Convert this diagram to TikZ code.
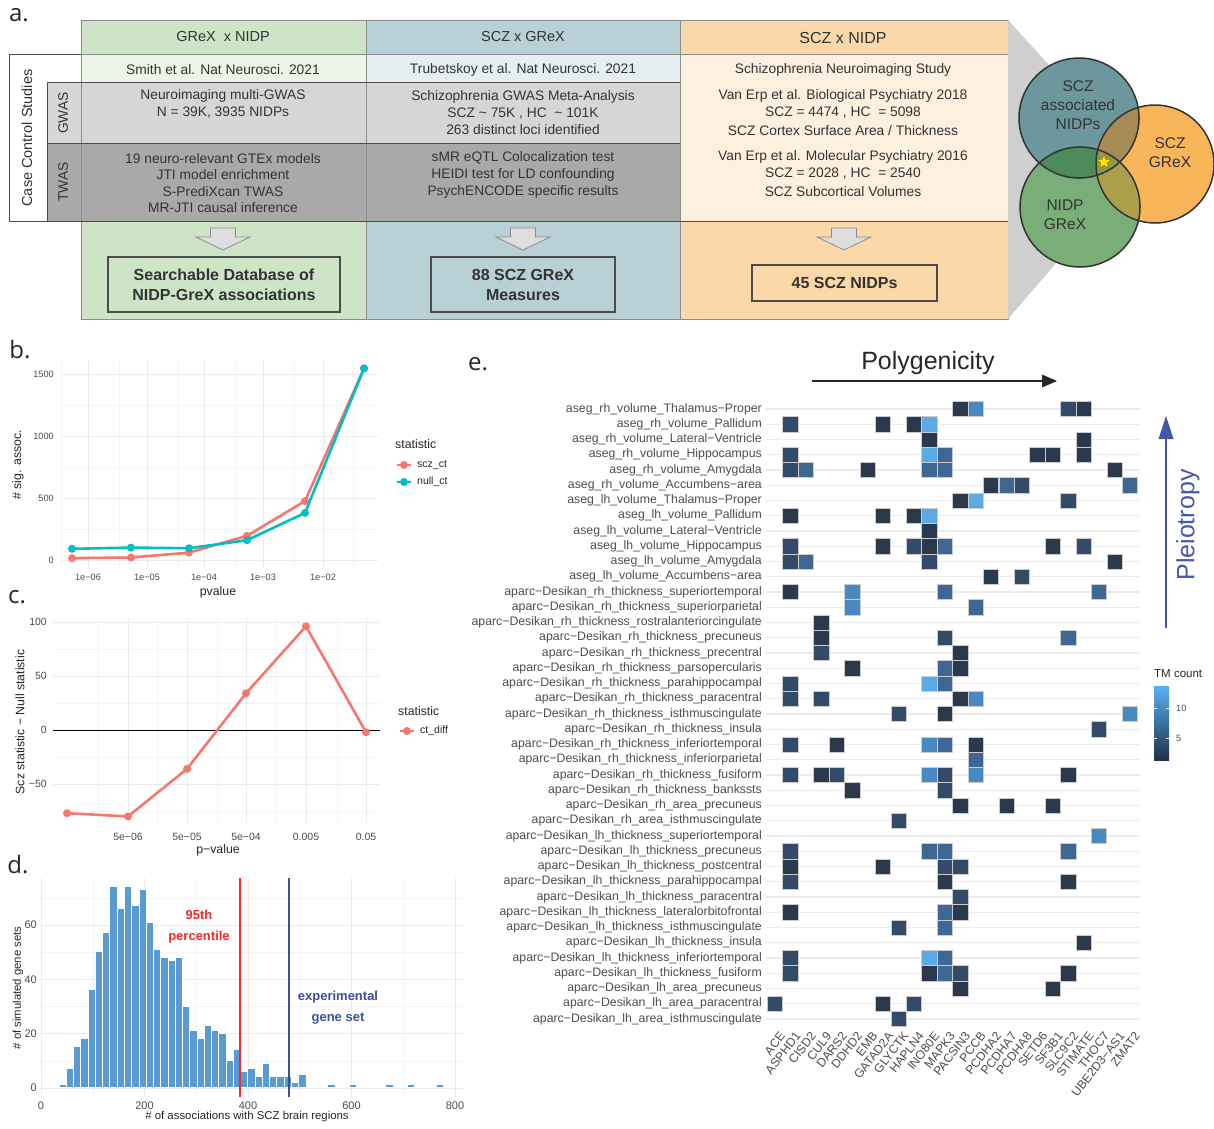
\documentclass[tikz,border=0pt]{standalone}
\usepackage{fontspec}
\setmainfont{Liberation Sans}
\newfontfamily\letterfont{Open Sans}
\usepackage{tikz}
\usepackage{xcolor}
\usetikzlibrary{shapes.geometric}

\definecolor{colgreen}{HTML}{CDE4C6}
\definecolor{colgreenpale}{HTML}{EDF5E8}
\definecolor{colblue}{HTML}{B8D0D6}
\definecolor{colbluepale}{HTML}{E5EEF0}
\definecolor{colorange}{HTML}{FBD8A8}
\definecolor{colcream}{HTML}{FDF0DF}
\definecolor{gwasgray}{HTML}{D6D6D6}
\definecolor{twasgray}{HTML}{A9A9A9}
\definecolor{framegray}{HTML}{8C8C8C}
\definecolor{txtdark}{HTML}{333333}
\definecolor{vennteal}{HTML}{6C979D}
\definecolor{vennorange}{HTML}{F8B55A}
\definecolor{venngreen}{HTML}{7AAE78}
\definecolor{tealgreen}{HTML}{4D8B5B}
\definecolor{tealorange}{HTML}{A68B55}
\definecolor{greenorange}{HTML}{ABA049}
\definecolor{allthree}{HTML}{8E9A4B}
\definecolor{conegray}{HTML}{CFCFCF}
\definecolor{gridmaj}{HTML}{EBEBEB}
\definecolor{gridmin}{HTML}{F4F4F4}
\definecolor{ticktxt}{HTML}{4D4D4D}
\definecolor{sczred}{HTML}{F8766D}
\definecolor{nullcyan}{HTML}{00BFC4}
\definecolor{barblue}{HTML}{5A9AD3}
\definecolor{pctred}{HTML}{EE2A2A}
\definecolor{expblue}{HTML}{3B4EA2}
\definecolor{tm1}{HTML}{2B394D}
\definecolor{tm2}{HTML}{334B69}
\definecolor{tm3}{HTML}{3E6791}
\definecolor{tm4}{HTML}{4A88C2}
\definecolor{tm5}{HTML}{5CAAE3}
\definecolor{tmlow}{HTML}{1F3148}
\definecolor{tmhigh}{HTML}{56B1F7}
\definecolor{pleioblue}{HTML}{4558A8}

\begin{document}
\begin{tikzpicture}[x=1pt,y=-1pt]
\tikzstyle{every node}+=[inner sep=0pt]
\tikzstyle{atext}=[text=txtdark, align=center, font=\fontsize{13.8}{16.6}\selectfont]
\tikzstyle{ahead}=[text=txtdark, font=\fontsize{14.5}{17}\selectfont]
\tikzstyle{abold}=[text=txtdark, align=center, font=\fontsize{16}{20}\selectfont\bfseries]
\tikzstyle{resbox}=[draw=black!70, line width=1.2pt]
\tikzstyle{blockarrow}=[fill=black!13, draw=black!45, line width=0.8pt]
\tikzstyle{venntext}=[text=txtdark, align=center, font=\fontsize{15.5}{19}\selectfont]
\tikzstyle{panellab}=[text=black!85, font=\letterfont\fontsize{24}{24}\selectfont]
\tikzstyle{majgrid}=[draw=gridmaj, line width=1pt]
\tikzstyle{mingrid}=[draw=gridmin, line width=0.6pt]
\tikzstyle{tickb}=[text=ticktxt, font=\fontsize{9.2}{10}\selectfont]
\tikzstyle{tickc}=[text=ticktxt, font=\fontsize{10.5}{11}\selectfont]
\tikzstyle{tickd}=[text=ticktxt, font=\fontsize{11}{12}\selectfont]
\tikzstyle{axtitle}=[text=black!85, font=\fontsize{12.3}{13}\selectfont]
\tikzstyle{legtext}=[text=black!85, font=\fontsize{10.5}{12}\selectfont]
\tikzstyle{rowlab}=[text=ticktxt, anchor=east, font=\fontsize{12.3}{13}\selectfont]
\tikzstyle{genelab}=[text=ticktxt, anchor=north east, rotate=52, font=\fontsize{12.2}{12}\selectfont]
\tikzstyle{tmcell}=[draw=white!80!black, line width=0.5pt]
\useasboundingbox (0,0) rectangle (1214,1128);

\node[panellab] (la) at (19,15) {a.};
\fill[colgreen] (81,20) rectangle (366,319);
\fill[colblue] (366,20) rectangle (680,319);
\fill[colorange] (680,20) rectangle (1008,319);
\fill[colgreenpale] (81,54) rectangle (366,82);
\fill[colbluepale] (366,54) rectangle (680,82);
\fill[colcream] (680,54) rectangle (1008,221);
\fill[gwasgray] (47,82) rectangle (680,143);
\fill[twasgray] (47,143) rectangle (680,221);
\fill[white] (9,54) rectangle (81,82);
\fill[white] (9,82) rectangle (47,221);
\draw[framegray, line width=1pt] (81,20) rectangle (1008,319);
\draw[framegray, line width=1pt] (366,20) -- (366,319);
\draw[framegray, line width=1pt] (680,20) -- (680,319);
\draw[framegray, line width=1pt] (81,54) -- (1008,54);
\draw[black!70, line width=1pt] (9,54) -- (81,54);
\draw[black!70, line width=1pt] (9,54) -- (9,221) -- (1008,221);
\draw[black!70, line width=1pt] (47,82) -- (680,82);
\draw[black!70, line width=1pt] (47,143) -- (680,143);
\draw[black!70, line width=1pt] (47,82) -- (47,221);
\node[ahead] (hgreen) at (223,37) {GReX\ \ x NIDP};
\node[ahead] (hblue) at (523,37) {SCZ x GReX};
\node[ahead, font=\fontsize{16}{18}\selectfont] (horange) at (843,38) {SCZ x NIDP};
\node[atext] (rgreen) at (223,70) {Smith et al. Nat Neurosci. 2021};
\node[atext] (rblue) at (523,70) {Trubetskoy et al. Nat Neurosci. 2021};
\node[atext] (rorange) at (843,70) {Schizophrenia Neuroimaging Study};
\node[atext] (gwgreen) at (223,104) {Neuroimaging multi-GWAS\\N = 39K, 3935 NIDPs};
\node[atext] (gwblue) at (523,112.5) {Schizophrenia GWAS Meta-Analysis\\SCZ \textasciitilde{} 75K , HC \ \textasciitilde{} 101K\\263 distinct loci identified};
\node[atext] (twgreen) at (223,183) {19 neuro-relevant GTEx models\\JTI model enrichment\\S-PrediXcan TWAS\\MR-JTI causal inference};
\node[atext] (twblue) at (523,175) {sMR eQTL Colocalization test\\HEIDI test for LD confounding\\PsychENCODE specific results};
\node[atext] (bio) at (843,104) {Van Erp et al. Biological Psychiatry 2018\\SCZ = 4474 , HC \ = 5098};
\node[atext] (cortex) at (843,131) {SCZ Cortex Surface Area / Thickness};
\node[atext] (mol) at (843,165) {Van Erp et al. Molecular Psychiatry 2016\\SCZ = 2028 , HC \ = 2540};
\node[atext] (subc) at (843,192) {SCZ Subcortical Volumes};
\node[atext, rotate=90, font=\fontsize{14.5}{16}\selectfont] (ccs) at (27,138) {Case Control Studies};
\node[atext, rotate=90] (gwas) at (63,113) {GWAS};
\node[atext, rotate=90] (twas) at (63,182) {TWAS};
\foreach \ax in {223,523,844}
  \filldraw[blockarrow] ({\ax-12.5},228) -- ({\ax+12.5},228) -- ({\ax+12.5},237) -- ({\ax+27},237)
    -- (\ax,250) -- ({\ax-27},237) -- ({\ax-12.5},237) -- cycle;
\node[resbox, abold, fill=colgreen, minimum width=232pt, minimum height=55pt] (resgreen) at (224,284.5) {Searchable Database of\\NIDP-GreX associations};
\node[resbox, abold, fill=colblue, minimum width=184pt, minimum height=55pt] (resblue) at (523,284.5) {88 SCZ GReX\\Measures};
\node[resbox, abold, fill=colorange, minimum width=185pt, minimum height=36pt] (resorange) at (844.5,283) {45 SCZ NIDPs};

\fill[conegray] (1008,20) -- (1050,66) -- (1057,262) -- (1008,319) -- cycle;
\fill[vennteal] (1079,118) circle [radius=60pt];
\fill[vennorange] (1155,164) circle [radius=59pt];
\fill[venngreen] (1080,207) circle [radius=60pt];
\begin{scope}
\clip (1079,118) circle [radius=60pt];
\fill[tealgreen] (1080,207) circle [radius=60pt];
\fill[tealorange] (1155,164) circle [radius=59pt];
\end{scope}
\begin{scope}
\clip (1080,207) circle [radius=60pt];
\fill[greenorange] (1155,164) circle [radius=59pt];
\clip (1079,118) circle [radius=60pt];
\fill[allthree] (1155,164) circle [radius=59pt];
\end{scope}
\draw[black!80, line width=1.5pt] (1079,118) circle [radius=60pt];
\draw[black!80, line width=1.5pt] (1155,164) circle [radius=59pt];
\draw[black!80, line width=1.5pt] (1080,207) circle [radius=60pt];
\node[star, star points=5, star point ratio=2.3, minimum size=15pt, fill=yellow!90!orange, draw=orange!70!black, line width=0.4pt] (star) at (1104,162) {};
\node[venntext] (vscz) at (1078,105) {SCZ\\associated\\NIDPs};
\node[venntext] (vgrex) at (1170,152.5) {SCZ\\GReX};
\node[venntext] (vnidp) at (1065,215) {NIDP\\GReX};

\node[panellab] (lb) at (20,350) {b.};
\foreach \gy in {405,467,529} \draw[mingrid] (62,\gy) -- (378,\gy);
\foreach \gx in {61,119,178,236,294,353} \draw[mingrid] (\gx,360) -- (\gx,568);
\foreach \gy in {374,436,498,560} \draw[majgrid] (62,\gy) -- (378,\gy);
\foreach \gx in {88,147,204,263,323} \draw[majgrid] (\gx,360) -- (\gx,568);
\draw[sczred, line width=2.6pt, line join=round] (72,558.1) -- (131,557.5) -- (189,552.6) -- (247,535.8) -- (305,501.1) -- (364,368.4);
\foreach \px/\py in {72/558.1,131/557.5,189/552.6,247/535.8,305/501.1,364/368.4}
  \fill[sczred] (\px,\py) circle [radius=4pt];
\draw[nullcyan, line width=2.6pt, line join=round] (72,548.8) -- (131,547.6) -- (189,548.2) -- (247,540.2) -- (305,512.9) -- (364,368.4);
\foreach \px/\py in {72/548.8,131/547.6,189/548.2,247/540.2,305/512.9,364/368.4}
  \fill[nullcyan] (\px,\py) circle [radius=4pt];
\foreach \tv/\ty in {1500/374,1000/436,500/498,0/560}
  \node[tickb, anchor=east] (yb\tv) at (54,\ty) {\tv};
\foreach \tx/\tl [count=\i] in {88/1e−06,147/1e−05,204/1e−04,263/1e−03,323/1e−02}
  \node[tickb] (xb\i) at (\tx,577) {\tl};
\node[axtitle] (xtb) at (218,592) {pvalue};
\node[axtitle, rotate=90] (ytb) at (18,465) {\# sig. assoc.};
\node[axtitle, anchor=west] (legb) at (395,444) {statistic};
\draw[sczred, line width=2.6pt] (397,465) -- (411,465);
\fill[sczred] (404,465) circle [radius=4pt];
\node[legtext, anchor=west] (legscz) at (417,465) {scz\_ct};
\draw[nullcyan, line width=2.6pt] (397,482) -- (411,482);
\fill[nullcyan] (404,482) circle [radius=4pt];
\node[legtext, anchor=west] (legnull) at (417,482) {null\_ct};

\node[panellab] (lc) at (17,597) {c.};
\foreach \gy in {649,703,757,811} \draw[mingrid] (53,\gy) -- (380,\gy);
\foreach \gx in {98,157,217,276,337} \draw[mingrid] (\gx,618) -- (\gx,823);
\foreach \gy in {622,676,784} \draw[majgrid] (53,\gy) -- (380,\gy);
\foreach \gx in {128,187,246,306,366} \draw[majgrid] (\gx,618) -- (\gx,823);
\draw[black, line width=0.8pt] (53,730) -- (380,730);
\draw[sczred, line width=2.6pt, line join=round] (67,813.2) -- (128,816.4) -- (187,768.9) -- (246,693.3) -- (306,626.3) -- (366,732.2);
\foreach \px/\py in {67/813.2,128/816.4,187/768.9,246/693.3,306/626.3,366/732.2}
  \fill[sczred] (\px,\py) circle [radius=4pt];
\foreach \tv/\ty [count=\i] in {100/622,50/676,0/730,−50/784}
  \node[tickc, anchor=east] (yc\i) at (47,\ty) {\tv};
\foreach \tx/\tl [count=\i] in {128/5e−06,187/5e−05,246/5e−04,306/0.005,366/0.05}
  \node[tickc] (xc\i) at (\tx,837) {\tl};
\node[axtitle] (xtc) at (218,850) {p−value};
\node[axtitle, rotate=90] (ytc) at (20,722) {Scz statistic − Null statistic};
\node[axtitle, anchor=west] (legc) at (398,711) {statistic};
\draw[sczred, line width=2.6pt] (400,731) -- (414,731);
\fill[sczred] (407,731) circle [radius=4pt];
\node[legtext, anchor=west] (legdiff) at (420,731) {ct\_diff};

\node[panellab] (ld) at (18,865) {d.};
\foreach \gy in {1060.9,1006.6,952.3,898} \draw[mingrid] (40,\gy) -- (463,\gy);
\foreach \gx in {92.8,196.3,299.8,403.3} \draw[mingrid] (\gx,878) -- (\gx,1097);
\foreach \gy in {1088,1033.7,979.4,925.1} \draw[majgrid] (40,\gy) -- (463,\gy);
\foreach \gx in {41,144.5,248,351.5,455} \draw[majgrid] (\gx,878) -- (\gx,1097);
\foreach \k/\n in {0/1,1/7,2/15,3/18,4/36,5/50,6/57,7/74,8/66,9/74,10/67,11/73,12/61,13/51,14/48,15/47,16/48,17/30,18/21,19/18,20/23,21/21,22/20,23/10,24/14,25/6,26/7,27/4,28/9,29/4,30/4,31/4,32/2,33/5,37/1,40/1,45/1,48/1,52/1}
  \filldraw[fill=barblue, draw=white, line width=0.8pt] ({62.7+7.26*\k-3.63},1087.5) rectangle ({62.7+7.26*\k+3.63},{1087.5-2.715*\n});
\draw[pctred, line width=2.4pt] (240,878) -- (240,1097);
\draw[expblue, line width=2.4pt] (289,878) -- (289,1097);
\node[text=pctred, align=center, font=\fontsize{13}{21}\selectfont\bfseries] (pct) at (199,926.5) {95th\\percentile};
\node[text=expblue, align=center, font=\fontsize{13}{21}\selectfont\bfseries] (expset) at (338,1007.5) {experimental\\gene set};
\foreach \tv/\ty in {0/1088,20/1033.7,40/979.4,60/925.1}
  \node[tickd, anchor=east] (yd\tv) at (37,\ty) {\tv};
\foreach \tv/\tx in {0/41,200/144.5,400/248,600/351.5,800/455}
  \node[tickd] (xd\tv) at (\tx,1106) {\tv};
\node[axtitle, font=\fontsize{11.4}{12}\selectfont] (xtd) at (247,1117) {\# of associations with SCZ brain regions};
\node[axtitle, rotate=90, font=\fontsize{11.3}{12}\selectfont] (ytd) at (18,988) {\# of simulated gene sets};

\node[panellab] (le) at (478,364) {e.};
\node[font=\fontsize{25}{26}\selectfont, text=black!85] (poly) at (928,363) {Polygenicity};
\coordinate (pstart) at (812,381);
\coordinate (pend) at (1057,381);
\draw[black!85, line width=2pt] (pstart) -- (1044,381);
\fill[black!85] (pend) -- (1042,374.5) -- (1042,387.5) -- cycle;
\coordinate (qstart) at (1166,628);
\coordinate (qend) at (1166,416);
\draw[pleioblue, line width=2.5pt] (qstart) -- (1166,436);
\fill[pleioblue] (qend) -- (1158.5,439) -- (1173.5,439) -- cycle;
\node[rotate=90, text=pleioblue, font=\fontsize{25}{26}\selectfont] (pleio) at (1188,525) {Pleiotropy};
\foreach \r in {0,...,40}
  \draw[gridmaj, line width=1.2pt] (766,{409+15.25*\r}) -- (1140,{409+15.25*\r});
\foreach \r/\c/\k in {0/12/1,0/13/4,0/19/2,0/20/1,
  1/1/2,1/7/1,1/9/1,1/10/5,
  2/10/1,2/20/1,
  3/1/2,3/10/5,3/11/3,3/17/1,3/18/1,3/20/1,
  4/1/2,4/2/3,4/6/1,4/10/3,4/11/3,4/22/1,
  5/14/1,5/15/3,5/16/2,5/23/3,
  6/12/1,6/13/5,6/19/2,
  7/1/1,7/7/1,7/9/1,7/10/5,
  8/10/1,
  9/1/2,9/7/1,9/9/2,9/10/1,9/11/3,9/18/1,9/20/2,
  10/1/2,10/2/3,10/10/2,10/22/1,
  11/14/1,11/16/2,
  12/1/1,12/5/4,12/11/3,12/21/3,
  13/5/4,13/13/3,
  14/3/1,
  15/3/1,15/11/2,15/19/3,
  16/3/2,16/12/1,
  17/5/1,17/11/3,17/12/1,
  18/1/2,18/10/5,18/11/3,
  19/1/2,19/3/2,19/12/1,19/13/4,
  20/8/2,20/11/1,20/23/4,
  21/21/2,
  22/1/2,22/4/1,22/10/4,22/11/3,22/13/1,
  23/13/3,
  24/1/2,24/3/1,24/4/2,24/10/4,24/11/2,24/13/4,24/19/1,
  25/5/1,25/11/2,
  26/12/1,26/15/1,26/18/1,
  27/8/2,
  28/21/4,
  29/1/2,29/10/3,29/11/3,29/19/3,
  30/1/1,30/7/1,30/11/2,30/12/2,
  31/1/2,31/11/1,31/19/1,
  32/12/2,
  33/1/1,33/11/3,33/12/1,
  34/8/2,34/11/3,
  35/20/1,
  36/1/2,36/10/5,36/11/3,
  37/1/2,37/10/1,37/11/3,37/12/2,37/19/1,
  38/12/1,38/18/1,
  39/0/2,39/7/1,39/9/2,
  40/8/2}
  \filldraw[tmcell, fill=tm\k] ({775+15.43*\c-7.7},{409+15.25*\r-7.6}) rectangle +(15.4,15.2);
\foreach \lab [count=\i from 0] in {aseg\_rh\_volume\_Thalamus−Proper,
  aseg\_rh\_volume\_Pallidum,
  aseg\_rh\_volume\_Lateral−Ventricle,
  aseg\_rh\_volume\_Hippocampus,
  aseg\_rh\_volume\_Amygdala,
  aseg\_rh\_volume\_Accumbens−area,
  aseg\_lh\_volume\_Thalamus−Proper,
  aseg\_lh\_volume\_Pallidum,
  aseg\_lh\_volume\_Lateral−Ventricle,
  aseg\_lh\_volume\_Hippocampus,
  aseg\_lh\_volume\_Amygdala,
  aseg\_lh\_volume\_Accumbens−area,
  aparc−Desikan\_rh\_thickness\_superiortemporal,
  aparc−Desikan\_rh\_thickness\_superiorparietal,
  aparc−Desikan\_rh\_thickness\_rostralanteriorcingulate,
  aparc−Desikan\_rh\_thickness\_precuneus,
  aparc−Desikan\_rh\_thickness\_precentral,
  aparc−Desikan\_rh\_thickness\_parsopercularis,
  aparc−Desikan\_rh\_thickness\_parahippocampal,
  aparc−Desikan\_rh\_thickness\_paracentral,
  aparc−Desikan\_rh\_thickness\_isthmuscingulate,
  aparc−Desikan\_rh\_thickness\_insula,
  aparc−Desikan\_rh\_thickness\_inferiortemporal,
  aparc−Desikan\_rh\_thickness\_inferiorparietal,
  aparc−Desikan\_rh\_thickness\_fusiform,
  aparc−Desikan\_rh\_thickness\_bankssts,
  aparc−Desikan\_rh\_area\_precuneus,
  aparc−Desikan\_rh\_area\_isthmuscingulate,
  aparc−Desikan\_lh\_thickness\_superiortemporal,
  aparc−Desikan\_lh\_thickness\_precuneus,
  aparc−Desikan\_lh\_thickness\_postcentral,
  aparc−Desikan\_lh\_thickness\_parahippocampal,
  aparc−Desikan\_lh\_thickness\_paracentral,
  aparc−Desikan\_lh\_thickness\_lateralorbitofrontal,
  aparc−Desikan\_lh\_thickness\_isthmuscingulate,
  aparc−Desikan\_lh\_thickness\_insula,
  aparc−Desikan\_lh\_thickness\_inferiortemporal,
  aparc−Desikan\_lh\_thickness\_fusiform,
  aparc−Desikan\_lh\_area\_precuneus,
  aparc−Desikan\_lh\_area\_paracentral,
  aparc−Desikan\_lh\_area\_isthmuscingulate}
  \node[rowlab] (rl\i) at (762,{409+15.25*\i}) {\lab};
\foreach \g [count=\i from 0] in {ACE,ASPHD1,CISD2,CUL9,DARS2,DDHD2,EMB,GATAD2A,GLYCTK,HAPLN4,INO80E,MAPK3,PACSIN3,PCCB,PCDHA2,PCDHA7,PCDHA8,SETD6,SF3B1,SLC9C2,STIMATE,THOC7,UBE2D3−AS1,ZMAT2}
  \node[genelab] (gl\i) at ({779+15.43*\i},1031) {\g};
\node[legtext, anchor=west, font=\fontsize{11.5}{12}\selectfont] (tmleg) at (1154,674) {TM count};
\shade[top color=tmhigh, bottom color=tmlow] (1154,686) rectangle (1169,760);
\draw[white, line width=0.6pt] (1154,708) -- (1157,708);
\draw[white, line width=0.6pt] (1166,708) -- (1169,708);
\draw[white, line width=0.6pt] (1154,738) -- (1157,738);
\draw[white, line width=0.6pt] (1166,738) -- (1169,738);
\node[tickb, anchor=west] (tm10) at (1176,708) {10};
\node[tickb, anchor=west] (tm5) at (1176,738) {5};
\end{tikzpicture}
\end{document}
